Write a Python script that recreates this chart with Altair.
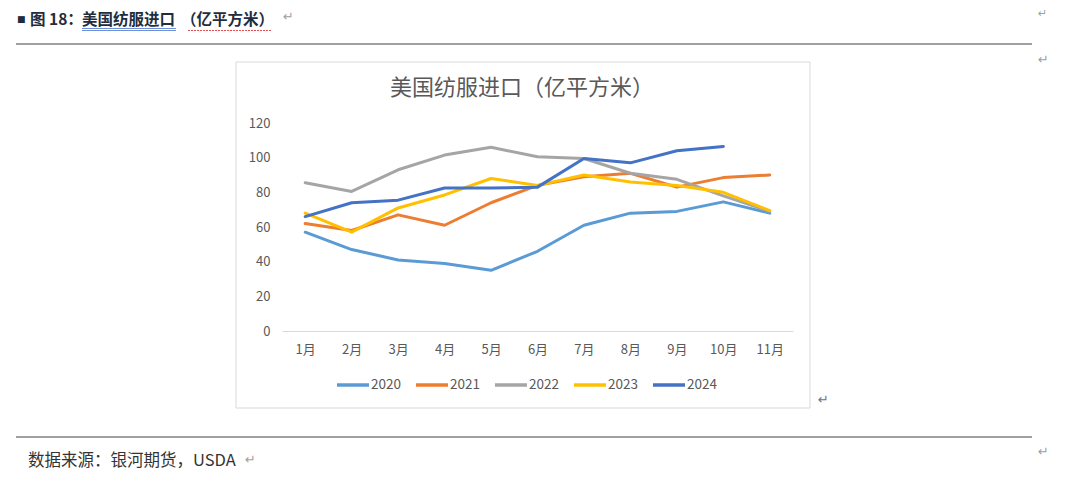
import altair as alt
import pandas as pd

months = ["1月", "2月", "3月", "4月", "5月", "6月", "7月", "8月", "9月", "10月", "11月"]
years = ["2020", "2021", "2022", "2023", "2024"]
colors = ["#5B9BD5", "#ED7D31", "#A5A5A5", "#FFC000", "#4472C4"]
v2020 = [57, 47, 41, 39, 35, 46, 61, 68, 69, 74.5, 68]
v2021 = [62, 58, 67, 61, 74, 84, 89, 91, 83, 88.5, 90]
v2022 = [85.5, 80.5, 93, 101.5, 106, 100.5, 99.5, 91, 87.5, 78, 69]
v2023 = [68, 57, 71, 78.5, 88, 84, 90, 86, 84, 80, 69.5]
v2024 = [66, 74, 75.5, 82.5, 82.5, 83, 99.5, 97, 104, 106.5]
y_ticks = [0, 20, 40, 60, 80, 100, 120]

chart_title = "美国纺服进口（亿平方米）"
header_fig = "图 18："
header_a = "美国纺服进口"
header_b = "（亿平方米）"
footer = "数据来源：银河期货，USDA"

rows = []
for yr, vals in zip(years, [v2020, v2021, v2022, v2023, v2024]):
    for m, v in zip(months, vals):
        rows.append({"month": m, "year": yr, "value": v})
df = pd.DataFrame(rows)

FONT = "Noto Sans CJK SC"
GRAY = "#595959"

# plot area in page coords: x 282..793, y 123..331
OX, OY = 282, 123


def rx(x):
    return x - OX


def ry(y):
    return y - OY


one = alt.Data(values=[{}])


def txt(s, x, y, size, color, weight="normal", align="left", font=FONT):
    return alt.Chart(one).mark_text(
        text=s, align=align, baseline="middle", fontSize=size, color=color,
        fontWeight=weight, font=font
    ).encode(x=alt.value(rx(x)), y=alt.value(ry(y)))


def hrule(x1, x2, y, color, width=1, dash=None):
    kw = dict(color=color, strokeWidth=width)
    if dash:
        kw["strokeDash"] = dash
    return alt.Chart(one).mark_rule(**kw).encode(
        x=alt.value(rx(x1)), x2=alt.value(rx(x2)), y=alt.value(ry(y))
    )


box = alt.Chart(one).mark_rect(fillOpacity=0, stroke="#D9D9D9", strokeWidth=1).encode(
    x=alt.value(rx(236)), x2=alt.value(rx(810)), y=alt.value(ry(62)), y2=alt.value(ry(408))
)

lines = alt.Chart(df).mark_line(strokeWidth=3, strokeCap="round", strokeJoin="round").encode(
    x=alt.X("month:N", sort=months,
            scale=alt.Scale(type="point", padding=0.5),
            axis=alt.Axis(title=None, ticks=False, grid=False, domainColor="#D9D9D9",
                          labelColor=GRAY, labelFont=FONT, labelFontSize=13,
                          labelPadding=12, labelAngle=0, zindex=1)),
    y=alt.Y("value:Q", scale=alt.Scale(domain=[0, 120], nice=False),
            axis=alt.Axis(title=None, values=y_ticks, ticks=False, domain=False, grid=False,
                          labelColor=GRAY, labelFont=FONT, labelFontSize=13,
                          labelPadding=12, zindex=1)),
    color=alt.Color("year:N", scale=alt.Scale(domain=years, range=colors),
                    legend=alt.Legend(title=None, orient="none", direction="horizontal",
                                      columns=5, legendX=53, legendY=244,
                                      symbolType="stroke", symbolSize=1024,
                                      symbolStrokeWidth=3.5, labelFont=FONT,
                                      labelFontSize=13.5, labelColor=GRAY,
                                      labelOffset=0, columnPadding=8)),
)

arrow_c = "#A0A0A0"
HEAD = "#1F2D3D"
layers = [
    box,
    lines,
    txt(chart_title, 522, 88, 22, GRAY, align="center"),
    # header
    txt("■", 17, 19, 9, HEAD, weight="bold", font="DejaVu Sans"),
    txt(header_fig, 30, 19.5, 15.5, HEAD, weight="bold"),
    txt(header_a, 82, 19.8, 15.5, HEAD, weight="bold"),
    txt(header_b, 181, 19.5, 15.5, HEAD, weight="bold"),
    hrule(82, 176, 28.5, "#6F8FD6"),
    hrule(82, 176, 30.5, "#6F8FD6"),
    hrule(188, 272, 30.5, "#E05050", dash=[2, 1]),
    txt("↵", 283, 17, 13, arrow_c, font="DejaVu Sans"),
    # separators
    hrule(16, 1032, 44, "#404040"),
    hrule(16, 1032, 437, "#404040"),
    # footer
    txt(footer, 28, 460.5, 16.5, "#333333"),
    txt("↵", 245, 460, 13, arrow_c, font="DejaVu Sans"),
    # paragraph marks
    txt("↵", 1038, 14, 11, arrow_c, font="DejaVu Sans"),
    txt("↵", 1038, 60, 13, arrow_c, font="DejaVu Sans"),
    txt("↵", 1038, 452, 13, arrow_c, font="DejaVu Sans"),
    txt("↵", 818, 400, 13, "#707070", font="DejaVu Sans"),
]

chart = alt.layer(*layers).properties(
    width=511, height=208,
    padding={"left": 274, "top": 115, "right": 279, "bottom": 142},
    autosize="none",
    background="white",
).configure_view(stroke=None)

chart.save("out.html", embed_options={"renderer": "svg", "actions": False})
